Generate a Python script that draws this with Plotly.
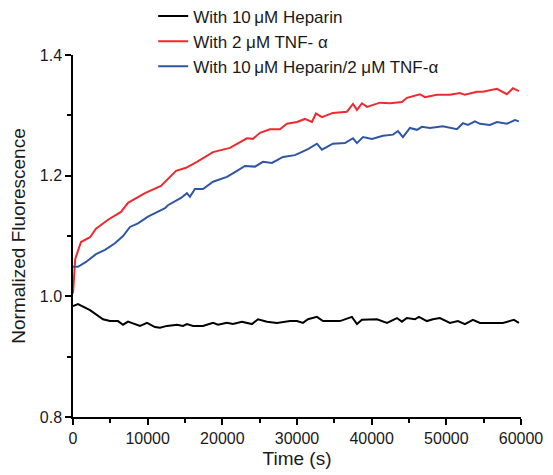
import plotly.graph_objects as go

# Black: With 10 uM Heparin
t_black = [0, 670, 2280, 4020, 4950, 6030, 6700, 7370, 8970, 9910, 10980, 11650, 12590, 13930,
           14730, 15260, 16070, 17410, 18750, 19420, 20620, 21420, 22630, 23970, 24770, 25980,
           27320, 29060, 30000, 30800, 31470, 32670, 33480, 35750, 37360, 38030, 38700, 40710,
           42050, 43390, 44050, 44720, 45800, 46330, 47400, 48200, 49140, 50480, 51550, 52490,
           53560, 54500, 55840, 57580, 59050, 59720]
v_black = [0.984, 0.987, 0.977, 0.962, 0.959, 0.959, 0.953, 0.958, 0.951, 0.956, 0.949, 0.948,
           0.951, 0.953, 0.951, 0.954, 0.951, 0.951, 0.956, 0.953, 0.956, 0.954, 0.958, 0.954,
           0.962, 0.958, 0.956, 0.959, 0.959, 0.956, 0.962, 0.966, 0.959, 0.959, 0.966, 0.954,
           0.961, 0.962, 0.956, 0.964, 0.958, 0.964, 0.962, 0.966, 0.959, 0.962, 0.964, 0.956,
           0.959, 0.954, 0.961, 0.956, 0.956, 0.956, 0.961, 0.956]

# Red: With 2 uM TNF-alpha
t_red = [0, 300, 1070, 2280, 3080, 4690, 6430, 7370, 9640, 11780, 13800, 15130, 16600, 18750,
         21020, 23300, 24100, 25040, 26380, 27720, 28650, 30000, 31060, 32000, 32540, 33340,
         34800, 36690, 37500, 38030, 38700, 39370, 41110, 42450, 44050, 44720, 46460, 47130,
         48740, 50480, 51820, 52490, 54100, 54900, 56780, 58110, 58920, 59720]
v_red = [1.005, 1.062, 1.090, 1.098, 1.112, 1.127, 1.140, 1.155, 1.171, 1.183, 1.208, 1.213,
         1.223, 1.239, 1.246, 1.262, 1.261, 1.271, 1.277, 1.277, 1.286, 1.289, 1.294, 1.289,
         1.303, 1.297, 1.304, 1.306, 1.319, 1.309, 1.320, 1.314, 1.321, 1.320, 1.322, 1.329,
         1.335, 1.330, 1.334, 1.334, 1.337, 1.334, 1.339, 1.339, 1.344, 1.335, 1.345, 1.340]

# Blue: With 10 uM Heparin/2 uM TNF-alpha
t_blue = [0, 670, 1740, 3080, 4280, 5620, 6700, 7630, 8700, 10040, 10980, 12320, 12720, 14460,
          15260, 15660, 16330, 17410, 18750, 20620, 21690, 23030, 24370, 25440, 26650, 28120,
          29730, 31470, 32670, 33340, 34800, 36420, 37500, 38030, 38840, 40040, 41510, 42850,
          43520, 44190, 45130, 46060, 46730, 47800, 49540, 51420, 52220, 52890, 53830, 54500,
          55840, 56780, 58110, 59180, 59720]
v_blue = [1.049, 1.049, 1.057, 1.070, 1.077, 1.088, 1.100, 1.115, 1.121, 1.132, 1.138, 1.146,
          1.151, 1.163, 1.171, 1.165, 1.178, 1.178, 1.190, 1.198, 1.206, 1.216, 1.215, 1.223,
          1.221, 1.231, 1.234, 1.244, 1.253, 1.243, 1.253, 1.254, 1.262, 1.254, 1.264, 1.261,
          1.266, 1.268, 1.274, 1.264, 1.279, 1.276, 1.281, 1.279, 1.282, 1.277, 1.287, 1.284,
          1.290, 1.286, 1.284, 1.289, 1.286, 1.292, 1.290]

x_ticks = [0, 10000, 20000, 30000, 40000, 50000, 60000]
x_ticklabels = ["0", "10000", "20000", "30000", "40000", "50000", "60000"]
y_ticks = [0.8, 1.0, 1.2, 1.4]
y_ticklabels = ["0.8", "1.0", "1.2", "1.4"]

names = ["With 10\u2009\u03bcM Heparin", "With 2 \u03bcM TNF- \u03b1",
         "With 10\u2009\u03bcM Heparin/2 \u03bcM TNF-\u03b1"]
colors = ["#000000", "#ee2a2e", "#2f56a6"]

fig = go.Figure()
for t, v, n, c in zip([t_black, t_red, t_blue], [v_black, v_red, v_blue], names, colors):
    fig.add_trace(go.Scatter(x=t, y=v, mode="lines", name=n,
                             line=dict(color=c, width=2)))

font = dict(family="Arial, Liberation Sans, sans-serif", size=16, color="#1a1a1a")
legend_font = dict(family="Arial, Liberation Sans, sans-serif", size=17, color="#1a1a1a")
fig.update_layout(
    width=545, height=467,
    margin=dict(l=65, r=32, t=47, b=58, autoexpand=False),
    paper_bgcolor="white", plot_bgcolor="white",
    font=font,
    showlegend=True,
    legend=dict(x=0.179, y=1.156, xanchor="left", yanchor="top",
                bgcolor="rgba(0,0,0,0)", font=legend_font, tracegroupgap=0,
                itemwidth=30),
    xaxis=dict(range=[0, 60000], tickvals=x_ticks, ticktext=x_ticklabels,
               ticks="outside", ticklen=6, tickwidth=1.5, tickcolor="black",
               showline=True, linecolor="black", linewidth=1.5, showgrid=False,
               zeroline=False,
               title=dict(text="Time (s)", standoff=6),
               minor=dict(dtick=5000, tick0=0, ticks="outside", ticklen=4,
                          tickwidth=1.5, tickcolor="black", showgrid=False)),
    yaxis=dict(range=[0.8, 1.4], tickvals=y_ticks, ticktext=y_ticklabels,
               ticks="outside", ticklen=6, tickwidth=1.5, tickcolor="black",
               showline=True, linecolor="black", linewidth=1.5, showgrid=False,
               zeroline=False,
               title=dict(text="Normalized Fluorescence", standoff=12),
               minor=dict(dtick=0.1, tick0=0.8, ticks="outside", ticklen=4,
                          tickwidth=1.5, tickcolor="black", showgrid=False)),
)
fig.write_html("out.html")
